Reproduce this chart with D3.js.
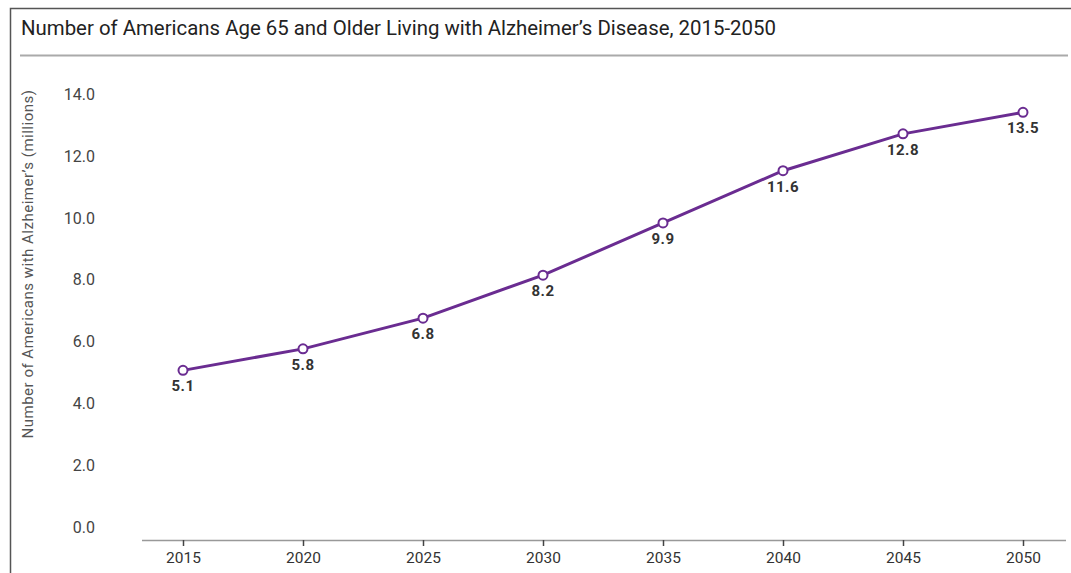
<!DOCTYPE html>
<html lang="en">
<head>
<meta charset="UTF-8">
<title>Alzheimer's 2015-2050</title>
<script src="https://d3js.org/d3.v7.min.js"></script>
<style>
  body { margin: 0; background: #fff; }
  text { font-family: Roboto, "Liberation Sans", sans-serif; }
</style>
</head>
<body>
<div id="chart"></div>
<script>
// data
var years = [2015, 2020, 2025, 2030, 2035, 2040, 2045, 2050];
var values = [5.1, 5.8, 6.8, 8.2, 9.9, 11.6, 12.8, 13.5];
var yTicks = [0, 2, 4, 6, 8, 10, 12, 14];

var W = 1071, H = 573;
var svg = d3.select("#chart").append("svg")
    .attr("width", W).attr("height", H);

// frame
svg.append("path")
    .attr("d", "M10.5," + H + " V8.5 H" + W)
    .attr("fill", "none").attr("stroke", "#555").attr("stroke-width", 1.5);

// title + rule
svg.append("text")
    .attr("x", 21).attr("y", 35)
    .attr("font-size", 20.4).attr("fill", "#222")
    .text("Number of Americans Age 65 and Older Living with Alzheimer\u2019s Disease, 2015-2050");
svg.append("line")
    .attr("x1", 20).attr("x2", 1068).attr("y1", 55.5).attr("y2", 55.5)
    .attr("stroke", "#aaa").attr("stroke-width", 2);

var x = d3.scaleLinear().domain([2015, 2050]).range([183, 1023]);
var y = d3.scaleLinear().domain([0, 14]).range([527, 97]);

// x axis
var xAxis = svg.append("g")
    .attr("transform", "translate(0,540)")
    .call(d3.axisBottom(x).tickValues(years).tickFormat(d3.format("d")).tickSize(6).tickSizeOuter(0));
xAxis.select(".domain").attr("d", "M142,0.5H1066").attr("stroke", "#999").attr("stroke-width", 1.5);
xAxis.selectAll(".tick line").attr("stroke", "#444").attr("stroke-width", 1.5);
xAxis.selectAll(".tick text")
    .attr("y", 18).attr("dy", "0.32em")
    .attr("font-size", 15.5).attr("fill", "#333")
    .style("font-family", "Roboto, sans-serif");

// y axis (labels only)
var yAxis = svg.append("g")
    .attr("transform", "translate(95,0)")
    .call(d3.axisLeft(y).tickValues(yTicks).tickFormat(d3.format(".1f")).tickSize(0).tickPadding(0));
yAxis.select(".domain").remove();
yAxis.selectAll(".tick text")
    .attr("font-size", 16).attr("fill", "#444")
    .attr("dy", function(d) { return (0.32 - d * 0.012) + "em"; })
    .style("font-family", "Roboto, sans-serif");

// y axis title
svg.append("text")
    .attr("transform", "translate(33,264) rotate(-90)")
    .attr("text-anchor", "middle")
    .attr("font-size", 15).attr("fill", "#555")
    .attr("letter-spacing", 0.5)
    .text("Number of Americans with Alzheimer\u2019s (millions)");

var data = years.map(function(d, i) { return {year: d, value: values[i]}; });

// line
svg.append("path")
    .datum(data)
    .attr("fill", "none")
    .attr("stroke", "#6a2c91")
    .attr("stroke-width", 3)
    .attr("d", d3.line()
        .x(function(d) { return x(d.year); })
        .y(function(d) { return y(d.value); }));

// markers
svg.selectAll(".dot")
    .data(data)
    .enter().append("circle")
    .attr("class", "dot")
    .attr("cx", function(d) { return x(d.year); })
    .attr("cy", function(d) { return y(d.value); })
    .attr("r", 4.5)
    .attr("fill", "#fff")
    .attr("stroke", "#6a2c91")
    .attr("stroke-width", 2);

// value labels
svg.selectAll(".lbl")
    .data(data)
    .enter().append("text")
    .attr("class", "lbl")
    .attr("x", function(d) { return x(d.year); })
    .attr("y", function(d) { return y(d.value) + 21; })
    .attr("text-anchor", "middle")
    .attr("font-size", 15).attr("font-weight", "bold").attr("fill", "#333")
    .attr("letter-spacing", 0.5)
    .text(function(d) { return d3.format(".1f")(d.value); });
</script>
</body>
</html>
